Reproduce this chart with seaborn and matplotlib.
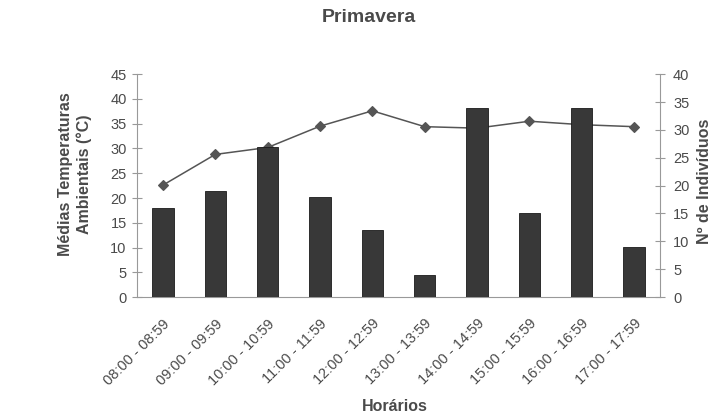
import numpy as np
import pandas as pd
import seaborn as sns
import matplotlib.pyplot as plt
from matplotlib.transforms import ScaledTranslation

horarios = ["08:00 - 08:59", "09:00 - 09:59", "10:00 - 10:59", "11:00 - 11:59",
            "12:00 - 12:59", "13:00 - 13:59", "14:00 - 14:59", "15:00 - 15:59",
            "16:00 - 16:59", "17:00 - 17:59"]
temperaturas = [22.6, 28.8, 30.2, 34.5, 37.6, 34.4, 34.1, 35.5, 34.8, 34.4]
individuos = [16, 19, 27, 18, 12, 4, 34, 15, 34, 9]

df = pd.DataFrame({"Horario": horarios, "Temp": temperaturas, "Ind": individuos})

sns.set_style("white")
plt.rcParams['font.family'] = ['Liberation Sans', 'DejaVu Sans']
txt = "#4a4a4a"
axc = "#999999"

fig = plt.figure(figsize=(7.2, 4.19), dpi=100)
ax = fig.add_axes([0.190, 0.291, 0.727, 0.532])
ax2 = ax.twinx()

# temperature line (left axis), bars on the twin axis so they cover the line
sns.pointplot(data=df, x="Horario", y="Temp", ax=ax, color="#555555",
              markers="D", markersize=5, linewidth=1.1, errorbar=None)
sns.barplot(data=df, x="Horario", y="Ind", ax=ax2, color="#383838",
            edgecolor="#1a1a1a", linewidth=0.6, width=0.41, saturation=1)
ax2.set_xlabel("")

ax.set_ylim(0, 45)
ax.set_yticks(np.arange(0, 46, 5))
ax2.set_ylim(0, 40)
ax2.set_yticks(np.arange(0, 41, 5))
ax.set_xlim(-0.5, len(horarios) - 0.5)

ax.set_xticks(range(len(horarios)))
ax.set_xticklabels(horarios, rotation=45, ha="right", rotation_mode="anchor",
                   fontsize=10.5, color=txt)
shift = ScaledTranslation(-0.05, 0, fig.dpi_scale_trans)
for lab in ax.get_xticklabels():
    lab.set_transform(lab.get_transform() + shift)
ax.set_xticks(np.arange(-0.5, len(horarios), 1), minor=True)
ax.tick_params(axis="x", which="major", length=0, pad=14)
ax.tick_params(axis="x", which="minor", length=6.5, direction="inout", color=axc)
ax.tick_params(axis="y", length=6.5, direction="inout", color=axc, labelsize=10.5,
               labelcolor=txt, pad=4)
ax2.tick_params(axis="y", length=6.5, direction="inout", color=axc, labelsize=10.5,
                labelcolor=txt, pad=6)

for a in (ax, ax2):
    for s in a.spines.values():
        s.set_color(axc)
        s.set_linewidth(0.8)
    a.spines["top"].set_visible(False)
ax.spines["right"].set_visible(False)
ax2.spines["left"].set_visible(False)
ax2.spines["bottom"].set_visible(False)

ax.set_ylabel("Médias Temperaturas\nAmbientais (°C)", fontsize=11.5,
              fontweight="bold", color=txt, linespacing=1.3)
ax.yaxis.set_label_coords(-0.085, 0.55)
ax2.set_ylabel("Nº de Indivíduos", fontsize=11.5, fontweight="bold", color=txt)
ax2.yaxis.set_label_coords(1.07, 0.52)
ax.set_xlabel("Horários", fontsize=11.5, fontweight="bold", color=txt)
ax.xaxis.label.set_va("baseline")
ax.xaxis.set_label_coords(0.493, -0.511)
fig.text(0.5125, 0.9475, "Primavera", ha="center", va="baseline",
         fontsize=14, fontweight="bold", color=txt)

fig.savefig("out.png", dpi=100)
